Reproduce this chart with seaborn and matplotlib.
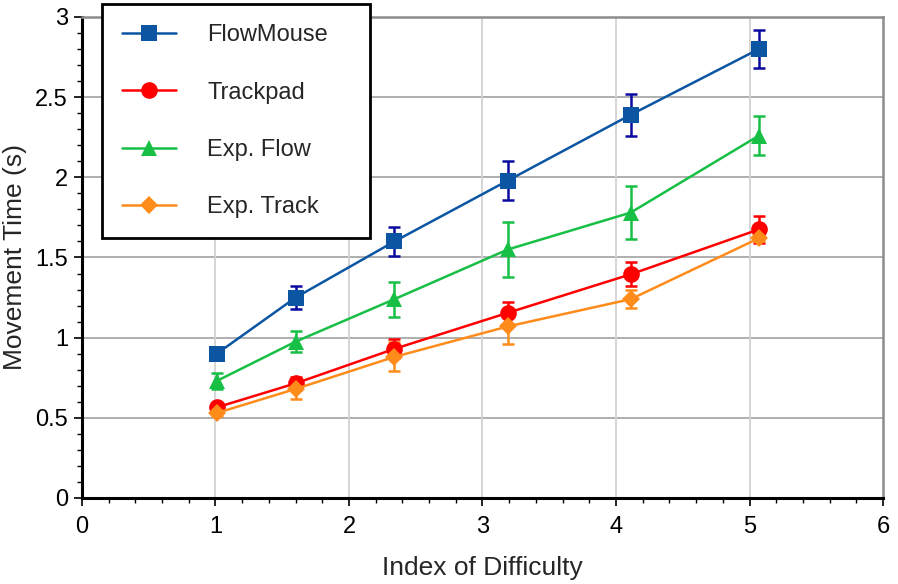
import matplotlib
matplotlib.use('Agg')

import matplotlib.pyplot as plt
import seaborn as sns
from matplotlib.ticker import MultipleLocator

# ---------------- DATA ----------------
index_of_difficulty = [1.01, 1.60, 2.34, 3.19, 4.11, 5.07]

flowmouse = [0.90, 1.25, 1.60, 1.98, 2.39, 2.80]
flowmouse_err = [0.03, 0.07, 0.09, 0.12, 0.13, 0.12]

trackpad = [0.565, 0.715, 0.93, 1.155, 1.395, 1.675]
trackpad_err = [0.03, 0.04, 0.06, 0.07, 0.075, 0.085]

exp_flow = [0.73, 0.975, 1.24, 1.55, 1.78, 2.26]
exp_flow_err = [0.05, 0.065, 0.11, 0.17, 0.165, 0.12]

exp_track = [0.53, 0.68, 0.88, 1.07, 1.24, 1.62]
exp_track_err = [0.02, 0.06, 0.09, 0.11, 0.055, 0.02]
# --------------------------------------

sns.set_theme(style="white")
plt.rcParams['font.family'] = ['Liberation Sans', 'DejaVu Sans']

fig = plt.figure(figsize=(8.98, 5.84), dpi=100)
ax = fig.add_axes([0.0913, 0.1473, 0.8920, 0.8236])

series = [
    ("FlowMouse", flowmouse, flowmouse_err, "#0B55A3", "#0A0AA0", "s", 12),
    ("Trackpad", trackpad, trackpad_err, "#FF0000", "#FF0000", "o", 12),
    ("Exp. Flow", exp_flow, exp_flow_err, "#17BF45", "#17BF45", "^", 12),
    ("Exp. Track", exp_track, exp_track_err, "#FF8C1A", "#FF8C1A", "D", 9),
]

for name, vals, err, col, ecol, mk, ms in series:
    # error bars first so the markers sit on top
    ax.errorbar(index_of_difficulty, vals, yerr=err, fmt="none",
                ecolor=ecol, elinewidth=1.8, capsize=4, capthick=1.8, zorder=3)
    sns.lineplot(x=index_of_difficulty, y=vals, ax=ax, color=col, marker=mk,
                 markersize=ms, markeredgewidth=0, linewidth=1.8,
                 label=name, zorder=4)

ax.set_xlim(0, 6)
ax.set_ylim(0, 3)
ax.xaxis.set_major_locator(MultipleLocator(1))
ax.xaxis.set_minor_locator(MultipleLocator(0.2))
ax.yaxis.set_minor_locator(MultipleLocator(0.1))
ax.set_yticks([0, 0.5, 1, 1.5, 2, 2.5, 3])
ax.set_yticklabels(["0", "0.5", "1", "1.5", "2", "2.5", "3"])

ax.tick_params(axis='both', which='major', direction='out', length=6, width=1.2,
               colors='black', labelsize=17, bottom=True, left=True)
ax.tick_params(axis='x', which='major', pad=7)
ax.tick_params(axis='y', which='major', pad=4)
ax.tick_params(axis='both', which='minor', direction='out', length=3.5, width=1,
               colors='black', bottom=True, left=True)

# horizontal grid darker, vertical lighter
ax.grid(False)
for y in [0.5, 1, 1.5, 2, 2.5, 3]:
    ax.axhline(y, color='#A8A8A8', linewidth=1.3, zorder=1)
for x in [1, 2, 3, 4, 5]:
    ax.axvline(x, color='#D2D2D2', linewidth=1.3, zorder=1)

for side in ['left', 'bottom']:
    ax.spines[side].set_color('black')
    ax.spines[side].set_linewidth(2.2)
for side in ['top', 'right']:
    ax.spines[side].set_color('#8C8C8C')
    ax.spines[side].set_linewidth(1.8)

ax.set_xlabel("Index of Difficulty", fontsize=19, labelpad=13)
ax.set_ylabel("Movement Time (s)", fontsize=19, labelpad=6)

leg = ax.legend(loc='upper left', bbox_to_anchor=(0.1136, 0.993, 0.2985, 0.0),
                bbox_transform=fig.transFigure, mode='expand', borderaxespad=0,
                fontsize=17, frameon=True, fancybox=False, labelspacing=1.5,
                handlelength=2.3, handletextpad=1.3, borderpad=0.85)
leg.get_frame().set_edgecolor('black')
leg.get_frame().set_linewidth(2.0)
leg.get_frame().set_alpha(1)
leg.set_zorder(10)

fig.savefig("out.png", dpi=100)
